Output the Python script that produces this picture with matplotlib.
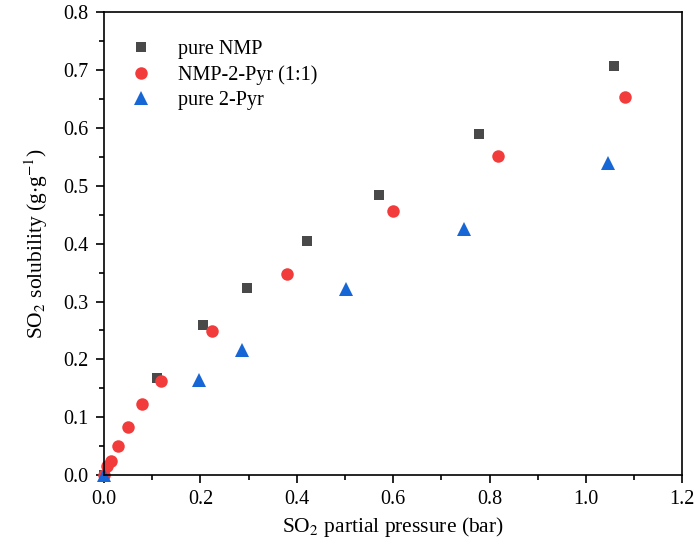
import numpy as np
import matplotlib.pyplot as plt
from matplotlib.ticker import MultipleLocator

# pure NMP
nmp_p = [0.0, 0.109, 0.205, 0.297, 0.421, 0.571, 0.779, 1.058]
nmp_s = [0.0, 0.167, 0.259, 0.324, 0.404, 0.485, 0.589, 0.707]

# NMP-2-Pyr (1:1)
mix_p = [0.0, 0.007, 0.014, 0.028, 0.050, 0.078, 0.118, 0.223, 0.379, 0.599, 0.817, 1.081]
mix_s = [0.0, 0.016, 0.025, 0.050, 0.083, 0.123, 0.163, 0.249, 0.347, 0.456, 0.551, 0.654]

# pure 2-Pyr
pyr_p = [0.0, 0.196, 0.287, 0.502, 0.747, 1.045]
pyr_s = [0.0, 0.164, 0.217, 0.321, 0.426, 0.540]

plt.rcParams['font.family'] = ['Liberation Serif', 'DejaVu Serif']
plt.rcParams['mathtext.fontset'] = 'stix'

fig = plt.figure(figsize=(6.94, 5.54), dpi=100)
ax = fig.add_axes([0.150, 0.1426, 0.833, 0.835])

ax.plot(nmp_p, nmp_s, 's', color='#494949', ms=7, mew=0, label='pure NMP', clip_on=False)
ax.plot(mix_p, mix_s, 'o', color='#f23c3c', ms=9, mew=0, label='NMP-2-Pyr (1:1)', clip_on=False)
ax.plot(pyr_p, pyr_s, '^', color='#1766d6', ms=10, mew=0, label='pure 2-Pyr', clip_on=False)

ax.set_xlim(0, 1.2)
ax.set_ylim(0, 0.8)
ax.xaxis.set_minor_locator(MultipleLocator(0.1))
ax.yaxis.set_minor_locator(MultipleLocator(0.05))
ax.set_xticks(np.arange(0, 1.21, 0.2))
ax.set_xticklabels([f'{v:.1f}' for v in np.arange(0, 1.21, 0.2)])
ax.set_yticks(np.arange(0, 0.81, 0.1))
ax.set_yticklabels([f'{v:.1f}' for v in np.arange(0, 0.81, 0.1)])

ax.tick_params(which='major', length=6, width=1.2, labelsize=14.5, pad=5)
ax.tick_params(which='minor', length=3.5, width=1.2)
for s in ax.spines.values():
    s.set_linewidth(1.2)

ax.set_xlabel(r'SO$_2$ partial pressure (bar)', fontsize=15.5, labelpad=4)
ax.set_ylabel(r'SO$_2$ solubility (g$\cdot$g$^{-1}$)', fontsize=15.5, labelpad=10)

ax.legend(loc='upper left', bbox_to_anchor=(0.004, 0.97), frameon=False,
          fontsize=14.5, handletextpad=0.85, labelspacing=0.28, borderaxespad=0.3)

fig.savefig('out.png', dpi=100)
